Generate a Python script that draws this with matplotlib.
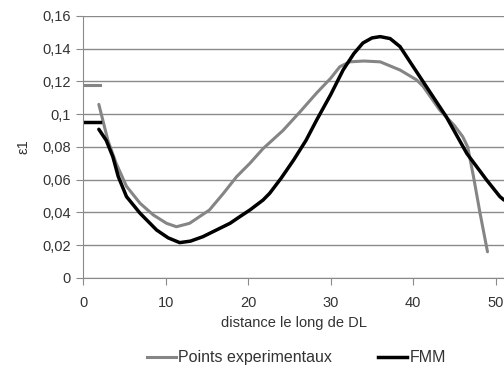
import matplotlib.pyplot as plt
from matplotlib.ticker import FuncFormatter
from matplotlib.lines import Line2D

plt.rcParams['font.family'] = ['Liberation Sans', 'DejaVu Sans']

# Points experimentaux
exp_x = [1.9, 3.0, 4.0, 5.25, 6.9, 8.5, 10.1, 11.3, 12.9, 15.3, 17.0, 18.6, 20.2, 21.8, 24.2,
         26.2, 28.3, 30.0, 31.1, 32.3, 34.0, 36.0, 38.4, 40.4, 41.2, 43.2, 45.0, 46.0, 46.6,
         47.3, 48.1, 49.0]
exp_y = [0.106, 0.084, 0.070, 0.056, 0.0456, 0.0385, 0.0334, 0.0313, 0.0334, 0.0415, 0.0517,
         0.0619, 0.070, 0.079, 0.090, 0.101, 0.113, 0.122, 0.129, 0.132, 0.1325, 0.132, 0.127,
         0.121, 0.117, 0.1026, 0.093, 0.0863, 0.080, 0.062, 0.0395, 0.016]

# FMM
fmm_x = [1.9, 2.8, 3.6, 4.25, 5.25, 6.9, 8.9, 10.3, 11.7, 13.0, 14.5, 17.8, 19.0, 20.2, 21.8,
         22.6, 24.0, 25.5, 27.0, 28.3, 30.0, 31.5, 32.8, 33.9, 35.0, 36.0, 37.2, 38.4, 40.0,
         41.6, 44.0, 46.5, 48.9, 50.5, 51.0]
fmm_y = [0.0908, 0.084, 0.074, 0.062, 0.0497, 0.0395, 0.0293, 0.0245, 0.0216, 0.0225, 0.0252,
         0.0334, 0.0375, 0.0415, 0.0476, 0.0517, 0.061, 0.072, 0.084, 0.0965, 0.112, 0.127,
         0.137, 0.1435, 0.1466, 0.1474, 0.1462, 0.1413, 0.129, 0.1168, 0.0985, 0.076, 0.0598,
         0.0497, 0.0476]

# short stubs near the y axis
stub_x = [0, 2]
stub_exp_y = [0.118, 0.118]
stub_fmm_y = [0.095, 0.095]

fig = plt.figure(figsize=(5.04, 3.78), dpi=100)
ax = fig.add_axes([0.165, 0.2646, 0.835, 0.6931])

ax.plot(exp_x, exp_y, color='#858585', lw=2.2, solid_joinstyle='round', solid_capstyle='round')
ax.plot(fmm_x, fmm_y, color='black', lw=2.5, solid_joinstyle='round', solid_capstyle='round')
ax.plot(stub_x, stub_exp_y, color='#858585', lw=2.2)
ax.plot(stub_x, stub_fmm_y, color='black', lw=2.5)

ax.set_xlim(0, 51)
ax.set_ylim(0, 0.16)
ax.set_xticks([0, 10, 20, 30, 40, 50])
ax.set_yticks([0, 0.02, 0.04, 0.06, 0.08, 0.1, 0.12, 0.14, 0.16])
ax.yaxis.set_major_formatter(FuncFormatter(lambda v, p: ('%g' % round(v, 2)).replace('.', ',')))
ax.grid(axis='y', color='#8a8a8a', lw=1)
ax.set_axisbelow(True)
for s in ['top', 'right']:
    ax.spines[s].set_visible(False)
for s in ['left', 'bottom']:
    ax.spines[s].set_color('#8a8a8a')
ax.tick_params(colors='#8a8a8a', labelcolor='#333333', labelsize=10.5, length=5, pad=4)
ax.tick_params(axis='x', pad=8)

ax.set_xlabel('distance le long de DL', fontsize=10.5, color='#333333', labelpad=4)
ax.set_ylabel('ε1', fontsize=10.5, color='#333333', labelpad=8)

handles = [Line2D([], [], color='#858585', lw=2.2), Line2D([], [], color='black', lw=2.5)]
fig.legend(handles, ['Points experimentaux', 'FMM'], loc='center', bbox_to_anchor=(0.588, 0.053),
           ncol=2, frameon=False, fontsize=11.5, handlelength=1.8, handletextpad=0.15,
           columnspacing=2.9, labelcolor='#333333')

fig.savefig('out.png', dpi=100)
